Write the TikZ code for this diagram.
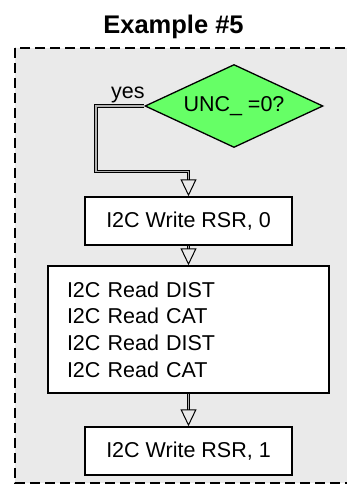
\documentclass[tikz,border=0pt]{standalone}
\usepackage{fontspec}
\setmainfont{Liberation Sans}
\usetikzlibrary{shapes.geometric}
\usetikzlibrary{arrows.meta}

\definecolor{decgreen}{RGB}{102,255,102}
\definecolor{panelgray}{RGB}{234,234,234}

\begin{document}
\begin{tikzpicture}[x=1pt, y=-1pt,
    every node/.style={font=\fontsize{21.5}{26.7}\selectfont},
    stepbox/.style={draw=black, line width=1.5pt, fill=white, inner sep=0pt},
    decision/.style={diamond, draw=black, line width=1.3pt, fill=decgreen, aspect=2.14,
        minimum width=178pt, minimum height=83pt, inner sep=0pt},
    flow/.style={draw=black, line width=1pt, double=black!30, double distance=1.8pt,
        line join=miter, -{Triangle[open, length=17pt, width=16pt, line width=1pt]}}]
    \useasboundingbox (0,0) rectangle (347,493);

    % ---------------- title and frame ----------------
    \node[font=\fontsize{25.5}{30}\selectfont\bfseries, anchor=base] (title) at (173.5,33) {Example \#5};
    \draw[black, line width=2.6pt, dash pattern=on 10pt off 5pt, fill=panelgray] (15,48) rectangle (360,483);

    % ---------------- decision ----------------
    \node[decision] (dec) at (234,106) {UNC\_ =0?};

    % ---------------- steps ----------------
    \node[stepbox, minimum width=207pt, minimum height=48pt] (wr0) at (188.5,221) {I2C Write RSR, 0};
    \node[stepbox, minimum width=281pt, minimum height=127pt, text width=243pt, align=left] (rd) at (188.5,329.5)
        {I2C Read DIST\\I2C Read CAT\\I2C Read DIST\\I2C Read CAT};
    \node[stepbox, minimum width=207pt, minimum height=48pt] (wr1) at (188.5,451) {I2C Write RSR, 1};

    % ---------------- flow ----------------
    \coordinate (bend) at (96,171.5);
    \draw[flow] (dec.west) -| (bend) node[pos=0.17, above, inner sep=3pt] {yes} -| (wr0.north);
    \draw[flow] (wr0) -- (rd);
    \draw[flow] (rd) -- (wr1);
\end{tikzpicture}
\end{document}
